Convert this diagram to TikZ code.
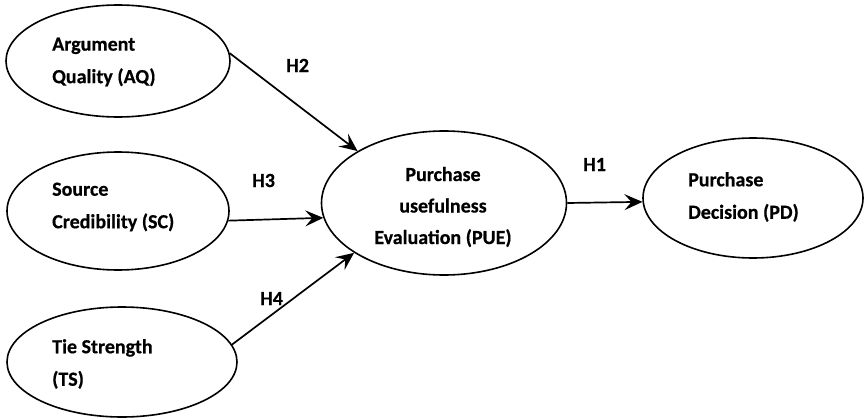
\documentclass[tikz,border=0pt]{standalone}
\usepackage{fontspec}
\setmainfont{Carlito}[BoldFeatures={FakeBold=0.6}]
\usetikzlibrary{shapes.geometric,arrows.meta}

\tikzset{
  construct/.style={draw=black, line width=1.6pt, ellipse, inner sep=0pt},
  label/.style={font=\bfseries\fontsize{20}{32.5}\selectfont, inner sep=0pt, align=left},
  hyp/.style={font=\bfseries\fontsize{20}{24}\selectfont, inner sep=0pt, anchor=base west},
  path/.style={draw=black, line width=1.7pt,
    -{Stealth[length=18pt, width=16pt, inset=7pt]}}
}

\begin{document}
\begin{tikzpicture}[x=1pt, y=-1pt]
  \useasboundingbox (0,0) rectangle (867,420);

  % constructs
  \node[construct, minimum width=224pt, minimum height=112pt] (aq)  at (118,61)  {};
  \node[construct, minimum width=222pt, minimum height=118pt] (sc)  at (118,211) {};
  \node[construct, minimum width=230pt, minimum height=110pt] (ts)  at (122,362) {};
  \node[construct, minimum width=245pt, minimum height=144pt] (pue) at (444,203) {};
  \node[construct, minimum width=220pt, minimum height=120pt] (pd)  at (753,198) {};

  % construct names
  \node[label, anchor=west] (aqt) at (52,62)  {Argument\\Quality (AQ)};
  \node[label, anchor=west] (sct) at (52,207) {Source\\Credibility (SC)};
  \node[label, anchor=west] (tst) at (52,364) {Tie Strength\\(TS)};
  \node[label, anchor=west] (pdt) at (688,197) {Purchase\\Decision (PD)};
  \node[label, align=center, font=\bfseries\fontsize{20}{31.5}\selectfont]
       (puet) at (443,207) {Purchase\\usefulness\\Evaluation (PUE)};

  % hypothesised paths
  \draw[path] (aq.4)  -- (pue.149);
  \draw[path] (sc.-5) -- (pue.187);
  \draw[path] (ts.9)  -- (pue.209);
  \draw[path] (pue.0) -- (pd.182);

  % hypothesis labels
  \node[hyp] (h2) at (286,72)  {H2};
  \node[hyp] (h3) at (252,187) {H3};
  \node[hyp] (h4) at (260,305) {H4};
  \node[hyp] (h1) at (583,171) {H1};
\end{tikzpicture}
\end{document}
